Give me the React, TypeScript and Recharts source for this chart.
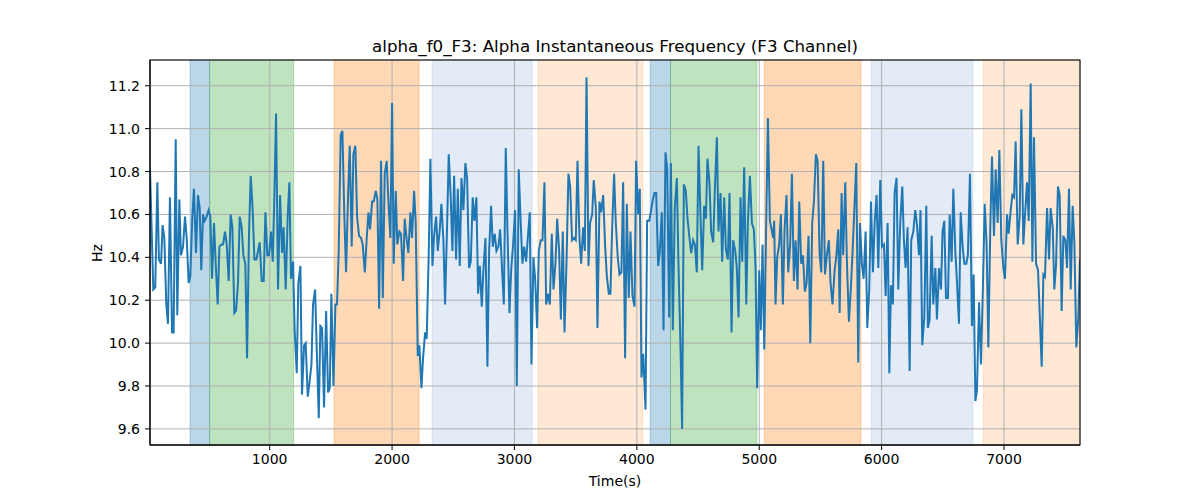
import React from "react"
import { CartesianGrid, Line, LineChart, ReferenceArea, XAxis, YAxis } from "recharts"

// alpha instantaneous frequency, F3 channel (time in s, value in Hz)
const times = [
  22, 49, 65, 82, 95, 112, 125, 139, 155, 169, 185, 202, 215, 232, 245, 262, 275, 292, 308, 322,
  338, 351, 368, 381, 398, 414, 428, 441, 455, 469, 485, 501, 515, 529, 545, 559, 575, 589, 605, 619,
  635, 649, 665, 681, 695, 711, 725, 741, 755, 771, 785, 801, 815, 831, 845, 861, 875, 891, 905, 918,
  935, 951, 965, 981, 995, 1011, 1025, 1038, 1052, 1068, 1085, 1101, 1114, 1131, 1147, 1161, 1174, 1191, 1204, 1221,
  1234, 1251, 1264, 1281, 1294, 1311, 1324, 1341, 1354, 1371, 1384, 1401, 1414, 1428, 1444, 1461, 1477, 1491, 1504, 1521,
  1537, 1550, 1564, 1580, 1594, 1610, 1624, 1640, 1654, 1670, 1684, 1700, 1714, 1730, 1747, 1760, 1777, 1793, 1807, 1820,
  1837, 1850, 1867, 1880, 1894,
  1910, 1924, 1940, 1956, 1970, 1986, 2000, 2013, 2030, 2043, 2060, 2073, 2090, 2103, 2120, 2133, 2150, 2163, 2180, 2193,
  2210, 2223, 2240, 2253, 2270, 2283, 2300, 2313, 2330, 2343, 2360, 2373, 2390, 2403, 2420, 2433, 2450, 2463, 2479, 2493,
  2507, 2523, 2537, 2553, 2567, 2583, 2599, 2613, 2629, 2643, 2659, 2673, 2689, 2703, 2717, 2733, 2746, 2763, 2779, 2793,
  2809, 2823, 2839, 2853, 2869, 2883, 2899, 2913, 2929, 2943, 2959, 2973, 2989, 3005, 3019, 3035, 3049, 3065, 3079, 3095,
  3109, 3125, 3139, 3155, 3169, 3185, 3199, 3215, 3229, 3245, 3259, 3275, 3289, 3305, 3319, 3335, 3349, 3365, 3379, 3395,
  3409, 3425, 3441, 3455, 3471, 3485, 3501, 3515, 3531, 3545, 3561, 3575, 3589, 3605, 3618, 3635, 3648, 3665, 3678, 3695,
  3708, 3725, 3741, 3755, 3771,
  3784, 3798, 3814, 3828, 3844, 3858, 3874, 3888, 3904, 3918, 3934, 3948, 3964, 3981, 3994, 4011, 4024, 4038, 4052, 4071,
  4084, 4101, 4114, 4131, 4144, 4158, 4174, 4188, 4204, 4218, 4234, 4248, 4264, 4278, 4294, 4310, 4327, 4340, 4357, 4370,
  4384, 4400, 4414, 4430, 4444, 4460, 4474, 4490, 4504, 4520, 4534, 4550, 4564, 4577, 4594, 4607, 4624, 4637, 4654, 4667,
  4684, 4697, 4714, 4727, 4744, 4757, 4774, 4787, 4804, 4817, 4831, 4847, 4861, 4877, 4894, 4907, 4924, 4940, 4956, 4970,
  4983, 5000, 5013, 5027, 5041, 5057, 5071, 5087, 5101, 5114, 5122, 5133, 5147, 5163, 5177, 5193, 5207, 5223, 5237, 5253,
  5267, 5283, 5297, 5313, 5327, 5343, 5357, 5373, 5387, 5403, 5417, 5433, 5447, 5463, 5477, 5493, 5507, 5523, 5537, 5553,
  5569, 5583, 5599, 5616, 5629, 5646,
  5657, 5673, 5686, 5703, 5717, 5733, 5749, 5763, 5779, 5793, 5809, 5823, 5839, 5853, 5869, 5883, 5899, 5913, 5929, 5943,
  5959, 5973, 5989, 6003, 6019, 6033, 6049, 6063, 6076, 6092, 6106, 6122, 6136, 6152, 6169, 6182, 6196, 6212, 6229, 6242,
  6259, 6275, 6289, 6305, 6318, 6332, 6349, 6365, 6378, 6392, 6409, 6422, 6439, 6452, 6469, 6485, 6498, 6512, 6526, 6542,
  6556, 6572, 6586, 6602, 6616, 6632, 6646, 6662, 6676, 6692, 6705, 6722, 6738, 6752, 6766, 6779, 6796, 6812, 6828, 6842,
  6858, 6872, 6888, 6902, 6918, 6932, 6948, 6962, 6978, 6995, 7008, 7025, 7038, 7055, 7068, 7082, 7095, 7112, 7128, 7142,
  7158, 7172, 7188, 7202, 7218, 7232, 7245, 7262, 7278, 7291, 7308, 7322, 7335, 7352, 7368, 7381, 7398, 7411, 7425, 7441,
  7455, 7471, 7485, 7501, 7515, 7531, 7545, 7561, 7575, 7591, 7607, 7621,
]

const hz = [
  10.81, 10.25, 10.26, 10.75, 10.39, 10.37, 10.55, 10.49, 10.18, 10.09, 10.68, 10.05, 10.05, 10.95, 10.13, 10.67, 10.41, 10.45, 10.59, 10.49,
  10.28, 10.31, 10.59, 10.72, 10.42, 10.69, 10.63, 10.34, 10.6, 10.57, 10.59, 10.62, 10.59, 10.3, 10.56, 10.37, 10.18, 10.45, 10.46, 10.46,
  10.52, 10.46, 10.29, 10.6, 10.54, 10.14, 10.15, 10.28, 10.59, 10.54, 10.41, 10.37, 9.93, 10.51, 10.78, 10.62, 10.39, 10.39, 10.43, 10.47,
  10.29, 10.29, 10.61, 10.41, 10.41, 10.52, 10.38, 10.68, 11.07, 10.25, 10.69, 10.42, 10.54, 10.25, 10.59, 10.75, 10.3, 10.38, 10.06, 9.86,
  10.28, 10.36, 9.76, 9.99, 10.0, 9.75, 9.81, 9.9, 10.18, 10.25, 9.98, 9.65, 10.08, 10.07, 9.7, 10.15, 9.77, 9.79, 10.23, 9.8,
  10.18, 10.18, 10.43, 10.97, 10.99, 10.59, 10.33, 10.68, 10.92, 10.45, 10.88, 10.92, 10.59, 10.5, 10.49, 10.46, 10.33, 10.49, 10.61, 10.53,
  10.66, 10.66, 10.71, 10.67, 10.16,
  10.85, 10.21, 10.79, 10.85, 10.66, 10.49, 11.12, 10.37, 10.71, 10.46, 10.52, 10.51, 10.29, 10.58, 10.48, 10.42, 10.61, 10.49, 10.71, 10.56,
  9.94, 9.99, 9.79, 9.93, 10.05, 10.02, 10.43, 10.86, 10.36, 10.5, 10.59, 10.43, 10.53, 10.65, 10.47, 10.18, 10.56, 10.88, 10.68, 10.43,
  10.78, 10.39, 10.72, 10.36, 10.77, 10.62, 10.84, 10.77, 10.35, 10.38, 10.68, 10.57, 10.68, 10.23, 10.36, 10.17, 10.34, 10.49, 9.89, 10.43,
  10.64, 10.45, 10.51, 10.43, 10.45, 10.53, 10.34, 10.18, 10.91, 10.52, 10.14, 10.34, 10.46, 10.62, 9.8, 10.81, 10.59, 10.37, 10.45, 10.38,
  10.49, 10.61, 9.9, 10.4, 10.3, 10.07, 10.43, 10.48, 10.48, 10.75, 10.18, 10.23, 10.18, 10.51, 10.25, 10.37, 10.58, 10.43, 10.11, 10.52,
  10.05, 10.37, 10.79, 10.73, 10.48, 10.49, 10.48, 10.85, 10.49, 10.37, 10.54, 10.43, 11.24, 10.36, 10.56, 10.6, 10.76, 10.63, 10.07, 10.66,
  10.61, 10.69, 10.45, 10.31, 10.23,
  10.23, 10.53, 10.79, 10.56, 10.4, 10.32, 10.33, 10.75, 9.93, 10.65, 10.21, 10.52, 10.22, 10.17, 10.85, 10.6, 10.72, 9.84, 9.95, 9.69,
  10.57, 10.57, 10.61, 10.67, 10.7, 10.7, 10.36, 10.43, 10.61, 10.06, 10.89, 10.81, 10.12, 10.84, 10.06, 10.63, 10.77, 10.37, 9.97, 9.6,
  10.74, 10.71, 10.58, 10.49, 10.42, 10.48, 10.46, 10.33, 10.92, 10.59, 10.34, 10.64, 10.58, 10.86, 10.74, 10.52, 10.47, 10.71, 10.96, 10.52,
  10.7, 10.38, 10.68, 10.44, 10.39, 10.7, 10.05, 10.48, 10.43, 10.35, 10.12, 10.68, 10.38, 10.82, 10.18, 10.56, 10.78, 10.56, 10.53, 10.35,
  9.79, 10.34, 10.06, 10.46, 9.97, 10.56, 11.05, 10.57, 10.53, 10.49, 10.57, 10.18, 10.4, 10.46, 10.6, 10.18, 10.53, 10.69, 10.33, 10.46,
  10.79, 10.29, 10.48, 10.25, 10.66, 10.37, 10.41, 10.24, 10.28, 10.5, 10.0, 10.56, 10.66, 10.88, 10.85, 10.42, 10.33, 10.85, 10.32, 10.41,
  10.48, 10.28, 10.18, 10.34, 10.4, 10.53,
  10.14, 10.7, 10.41, 10.75, 10.37, 10.1, 10.26, 10.43, 10.65, 10.84, 9.91, 10.56, 10.37, 10.3, 10.52, 10.07, 10.25, 10.66, 10.33, 10.56,
  10.69, 10.35, 10.76, 10.45, 10.46, 10.22, 10.56, 9.86, 10.27, 10.18, 10.7, 10.77, 10.25, 10.56, 10.73, 10.48, 10.35, 10.54, 9.87, 10.48,
  10.52, 10.62, 10.55, 10.41, 10.62, 9.99, 10.12, 10.64, 10.07, 10.11, 10.5, 10.18, 10.35, 10.11, 10.35, 10.25, 10.52, 10.57, 10.21, 10.21,
  10.6, 10.38, 10.72, 10.43, 10.28, 10.09, 10.61, 10.45, 10.37, 10.37, 10.41, 10.79, 10.08, 10.32, 9.73, 9.78, 10.19, 9.9, 10.27, 10.65,
  10.46, 9.98, 10.54, 10.87, 10.5, 10.81, 10.56, 10.9, 10.48, 10.35, 10.3, 10.6, 10.51, 10.62, 10.69, 10.68, 10.94, 10.46, 10.59, 11.09,
  10.46, 10.6, 10.75, 10.57, 11.21, 10.38, 10.96, 10.37, 10.34, 10.15, 9.89, 10.32, 10.31, 10.63, 10.39, 10.63, 10.54, 10.25, 10.36, 10.73,
  10.69, 10.15, 10.5, 10.48, 10.35, 10.72, 10.25, 10.64, 10.47, 9.98, 10.12, 10.39,
]

// shaded state intervals
const bandStart = [349, 509, 1526, 2327, 3193, 4109, 4275, 5041, 5916, 6831]
const bandEnd = [509, 1196, 2221, 3144, 4049, 4275, 4981, 5831, 6747, 7621]
const bandKind = ["blue", "green", "orange", "paleBlue", "paleOrange", "blue", "green", "orange", "paleBlue", "paleOrange"]

const xTicks = [1000, 2000, 3000, 4000, 5000, 6000, 7000]
const yTicks = [9.6, 9.8, 10.0, 10.2, 10.4, 10.6, 10.8, 11.0, 11.2]

const bandStyle: Record<string, { color: string; alpha: number }> = {
  blue: { color: "#1f77b4", alpha: 0.3 },
  green: { color: "#2ca02c", alpha: 0.3 },
  orange: { color: "#ff7f0e", alpha: 0.3 },
  paleBlue: { color: "#447ac3", alpha: 0.15 },
  paleOrange: { color: "#ff7f0e", alpha: 0.18 },
}

const rows = times.map((t, i) => ({ t, hz: hz[i] }))

const font = "'DejaVu Sans', sans-serif"
const tickStyle = { fontSize: 14, fill: "#000", fontFamily: font }

export default function App() {
  return (
    <div style={{ position: "absolute", left: 0, top: 0, width: 1200, height: 500, background: "#fff" }}>
      <LineChart width={1200} height={500} data={rows} margin={{ top: 60, right: 120, bottom: 25, left: 90 }}>
        {bandStart.map((s, i) => {
          const st = bandStyle[bandKind[i]]
          return (
            <ReferenceArea
              key={i}
              x1={s}
              x2={bandEnd[i]}
              fill={st.color}
              fillOpacity={st.alpha}
              stroke={st.color}
              strokeOpacity={st.alpha}
              strokeWidth={1}
            />
          )
        })}
        {/* grid sits above the shaded bands but under the trace */}
        <CartesianGrid stroke="#b0b0b0" strokeWidth={1} zIndex={150} />
        <XAxis
          dataKey="t"
          type="number"
          domain={[22, 7621]}
          ticks={xTicks}
          allowDataOverflow
          height={30}
          tickSize={5}
          tickMargin={4}
          tick={tickStyle}
          stroke="#000"
        />
        <YAxis
          type="number"
          domain={[9.525, 11.32]}
          ticks={yTicks}
          allowDataOverflow
          width={60}
          tickSize={5}
          tickMargin={5}
          tick={tickStyle}
          tickFormatter={(v: number) => v.toFixed(1)}
          stroke="#000"
        />
        <Line
          dataKey="hz"
          stroke="#1f77b4"
          strokeWidth={2}
          dot={false}
          isAnimationActive={false}
        />
      </LineChart>
      <svg width={1200} height={500} style={{ position: "absolute", left: 0, top: 0, pointerEvents: "none" }}>
        <rect x={150} y={60} width={930} height={385} fill="none" stroke="#000" strokeWidth={1} />
        <text x={615} y={52} textAnchor="middle" fontSize={16.7} fontFamily={font} fill="#000">
          alpha_f0_F3: Alpha Instantaneous Frequency (F3 Channel)
        </text>
        <text x={615} y={486} textAnchor="middle" fontSize={14} fontFamily={font} fill="#000">
          Time(s)
        </text>
        <text x={102} y={253} textAnchor="middle" fontSize={14} fontFamily={font} fill="#000" transform="rotate(-90 102 253)">
          Hz
        </text>
      </svg>
    </div>
  )
}
